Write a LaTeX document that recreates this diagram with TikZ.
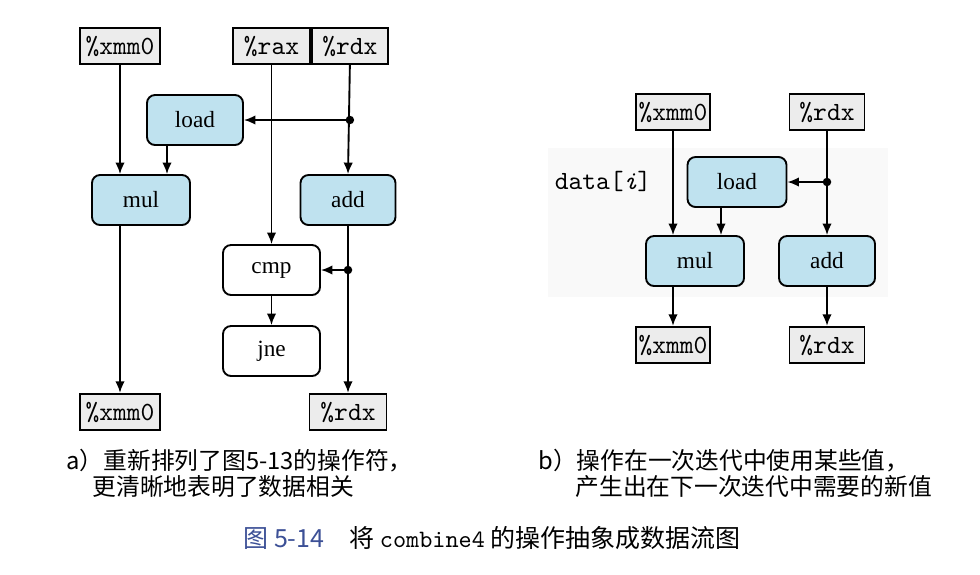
\documentclass[tikz,border=0pt]{standalone}
\usepackage{fontspec}
\setmainfont{Liberation Serif}
\newfontfamily\cjk{Noto Sans CJK SC}
\usetikzlibrary{arrows.meta}
\definecolor{opblue}{RGB}{191,226,239}
\definecolor{regfill}{RGB}{236,236,236}
\definecolor{capblue}{RGB}{60,80,150}
\tikzset{
  reg/.style={draw,line width=0.75pt,fill=regfill,inner sep=0pt,minimum width=31pt,
    minimum height=14.6pt,font=\ttfamily\fontsize{10.5}{12}\selectfont},
  op/.style={draw,line width=0.75pt,fill=opblue,rounded corners=3.2pt,inner sep=0pt,
    minimum width=38.8pt,minimum height=20pt,font=\fontsize{9.3}{11}\selectfont},
  ctl/.style={op,fill=white},
  arr/.style={line width=0.75pt,-{Latex[length=4.6pt,width=3.8pt]}},
  captext/.style={anchor=west,inner sep=0pt,font=\cjk\fontsize{9.5}{11}\selectfont},
}

\begin{document}
\begin{tikzpicture}[x=0.4pt,y=-0.4pt]
    \useasboundingbox (0,0) rectangle (980,574);
    % a)
    \node[reg,minimum width=32pt] (xa) at (120,46) {\%xmm0};
    \node[reg,minimum width=30.8pt] (raxa) at (271.5,46) {\%rax};
    \node[reg,minimum width=30.4pt,anchor=west] (rdxa) at (raxa.east) {\%rdx};
    \node[op,minimum width=38.4pt] (loada) at (195,120) {load};
    \node[op,minimum width=39.2pt] (mula) at (141,200) {mul};
    \node[op,minimum width=38pt] (adda) at (348,200) {add};
    \node[ctl] (cmpa) at (271.5,270) {cmp};
    \node[ctl] (jnea) at (271.5,351) {jne};
    \node[reg,minimum width=32pt] (xb) at (120,412) {\%xmm0};
    \node[reg,minimum width=30.8pt] (rdxb) at (348,412) {\%rdx};
    \coordinate (ja) at (rdxa |- loada);
    \coordinate (jb) at (adda |- cmpa);
    \draw[arr] (xa.south) -- (xa.south |- mula.north);
    \draw[arr] ([xshift=-11.2pt]loada.south) -- ([xshift=-11.2pt]loada.south |- mula.north);
    \draw[arr] (raxa.south) -- (cmpa.north);
    \draw[arr] (rdxa.south) -- (adda.north);
    \draw[arr] (ja) -- (loada.east);
    \draw[arr] (adda.south) -- (rdxb.north);
    \draw[arr] (jb) -- (cmpa.east);
    \draw[arr] (cmpa.south) -- (jnea.north);
    \draw[arr] (xa |- mula.south) -- (xb.north);
    \fill (ja) circle[radius=1.7pt] (jb) circle[radius=1.7pt];
    % b)
    \fill[gray!5] (548,148) rectangle (888,297);
    \node[reg,minimum width=29.6pt] (xc) at (673,112) {\%xmm0};
    \node[reg,minimum width=30pt] (rdxc) at (827,112) {\%rdx};
    \node[font=\ttfamily\fontsize{10.5}{12}\selectfont] (datai) at (603,181) {data[\textit{i}]};
    \node[op,minimum width=39.6pt] (loadc) at (737,182) {load};
    \node[op,minimum width=39.2pt] (mulc) at (695,261) {mul};
    \node[op,minimum width=38.4pt] (addc) at (827,261) {add};
    \node[reg,minimum width=29.6pt] (xd) at (673,345) {\%xmm0};
    \node[reg,minimum width=30pt] (rdxd) at (827,345) {\%rdx};
    \coordinate (jc) at (rdxc |- loadc);
    \draw[arr] (xc.south) -- (xc.south |- mulc.north);
    \draw[arr] ([xshift=-6.4pt]loadc.south) -- ([xshift=-6.4pt]loadc.south |- mulc.north);
    \draw[arr] (rdxc.south) -- (addc.north);
    \draw[arr] (jc) -- (loadc.east);
    \draw[arr] (xc |- mulc.south) -- (xd.north);
    \draw[arr] (addc.south) -- (rdxd.north);
    \fill (jc) circle[radius=1.7pt];
    % captions
    \node[captext] (capa) at (66,461) {a）重新排列了图5-13的操作符，};
    \node[captext] (capa2) at (92,487) {更清晰地表明了数据相关};
    \node[captext] (capb) at (538,461) {b）操作在一次迭代中使用某些值，};
    \node[captext] (capb2) at (575,487) {产生出在下一次迭代中需要的新值};
    \node[captext,anchor=center,font=\cjk\fontsize{10}{12}\selectfont] (fig) at (492,538)
      {\textcolor{capblue}{图 5-14}\quad 将 {\ttfamily combine4} 的操作抽象成数据流图};
\end{tikzpicture}
\end{document}
